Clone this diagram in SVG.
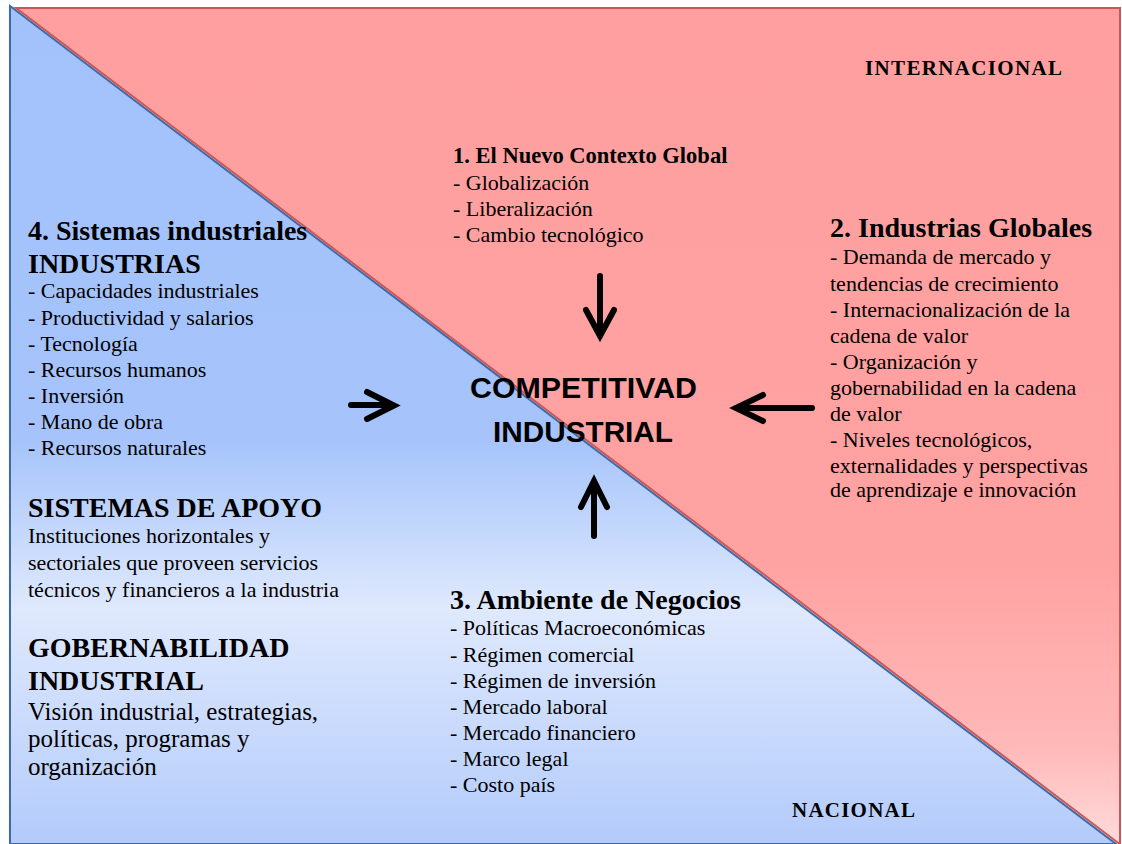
<svg xmlns="http://www.w3.org/2000/svg" width="1122" height="844" viewBox="0 0 1122 844">
<defs>
<linearGradient id="blueG" x1="0" y1="6" x2="0" y2="844" gradientUnits="userSpaceOnUse">
<stop offset="0" stop-color="#a3c1fb"/>
<stop offset="0.52" stop-color="#a6c4fb"/>
<stop offset="0.72" stop-color="#dfe9fd"/>
<stop offset="1" stop-color="#b3cbfb"/>
</linearGradient>
<linearGradient id="redG" x1="0" y1="8" x2="0" y2="844" gradientUnits="userSpaceOnUse">
<stop offset="0" stop-color="#ff9f9f"/>
<stop offset="0.66" stop-color="#ffa2a2"/>
<stop offset="0.88" stop-color="#ffb8b8"/>
<stop offset="1" stop-color="#ffdada"/>
</linearGradient>
<filter id="sh" x="-5%" y="-5%" width="110%" height="110%">
<feDropShadow dx="1" dy="1.5" stdDeviation="1.2" flood-color="#000" flood-opacity="0.35"/>
</filter>
</defs>
<style>
.serif{font-family:"Liberation Serif","Times New Roman",serif;fill:#000}
.r{font-size:22px}
.b{font-size:28px;font-weight:bold}
.b22{font-size:22.5px;font-weight:bold}
.lab{font-size:21px;font-weight:bold}
.v{font-size:25px}
.center{font-family:"Liberation Sans",Arial,sans-serif;font-size:29px;font-weight:bold;fill:#000}
.arr{fill:none;stroke:#000;stroke-width:6;stroke-linecap:round;stroke-linejoin:miter}
</style>
<rect x="0" y="0" width="1122" height="844" fill="#ffffff"/>
<g id="background">
<polygon points="10,6 1116,844 10,844" fill="url(#blueG)" stroke="#3d6aa8" stroke-width="2" filter="url(#sh)"/>
<polygon points="16,8 1120,8 1120,844 1117,842" fill="url(#redG)" stroke="#cc5556" stroke-width="2"/>
</g>
<g id="label-internacional">
<text class="serif lab" x="865" y="75" textLength="197" lengthAdjust="spacing">INTERNACIONAL</text>
</g>
<g id="label-nacional">
<text class="serif lab" x="792" y="817" textLength="123" lengthAdjust="spacing">NACIONAL</text>
</g>
<g id="node-contexto-global">
<text class="serif b22" x="453" y="163">1. El Nuevo Contexto Global</text>
<text class="serif r" x="453" y="190">- Globalización</text>
<text class="serif r" x="453" y="216">- Liberalización</text>
<text class="serif r" x="453" y="242">- Cambio tecnológico</text>
</g>
<g id="node-sistemas-industriales">
<text class="serif b" x="28" y="240">4. Sistemas industriales</text>
<text class="serif b" x="28" y="273">INDUSTRIAS</text>
<text class="serif r" x="28" y="298">- Capacidades industriales</text>
<text class="serif r" x="28" y="324.5">- Productividad y salarios</text>
<text class="serif r" x="28" y="350.5">- Tecnología</text>
<text class="serif r" x="28" y="376.5">- Recursos humanos</text>
<text class="serif r" x="28" y="402.5">- Inversión</text>
<text class="serif r" x="28" y="428.5">- Mano de obra</text>
<text class="serif r" x="28" y="454.5">- Recursos naturales</text>
</g>
<g id="node-sistemas-apoyo">
<text class="serif b" x="28" y="517">SISTEMAS DE APOYO</text>
<text class="serif r" x="28" y="543">Instituciones horizontales y</text>
<text class="serif r" x="28" y="570">sectoriales que proveen servicios</text>
<text class="serif r" x="28" y="596.5">técnicos y financieros a la industria</text>
</g>
<g id="node-gobernabilidad">
<text class="serif b" x="28" y="657">GOBERNABILIDAD</text>
<text class="serif b" x="28" y="690">INDUSTRIAL</text>
<text class="serif v" x="28" y="720">Visión industrial, estrategias,</text>
<text class="serif v" x="28" y="747">políticas, programas y</text>
<text class="serif v" x="28" y="775">organización</text>
</g>
<g id="node-industrias-globales">
<text class="serif b" x="830" y="237">2. Industrias Globales</text>
<text class="serif r" x="830" y="264">- Demanda de mercado y</text>
<text class="serif r" x="830" y="291">tendencias de crecimiento</text>
<text class="serif r" x="830" y="317">- Internacionalización de la</text>
<text class="serif r" x="830" y="343">cadena de valor</text>
<text class="serif r" x="830" y="369">- Organización y</text>
<text class="serif r" x="830" y="395">gobernabilidad en la cadena</text>
<text class="serif r" x="830" y="421">de valor</text>
<text class="serif r" x="830" y="447">- Niveles tecnológicos,</text>
<text class="serif r" x="830" y="473">externalidades y perspectivas</text>
<text class="serif r" x="830" y="497">de aprendizaje e innovación</text>
</g>
<g id="node-ambiente-negocios">
<text class="serif b" x="450" y="609">3. Ambiente de Negocios</text>
<text class="serif r" x="450" y="635">- Políticas Macroeconómicas</text>
<text class="serif r" x="450" y="661.5">- Régimen comercial</text>
<text class="serif r" x="450" y="687.5">- Régimen de inversión</text>
<text class="serif r" x="450" y="713.5">- Mercado laboral</text>
<text class="serif r" x="450" y="739.5">- Mercado financiero</text>
<text class="serif r" x="450" y="765.5">- Marco legal</text>
<text class="serif r" x="450" y="791.5">- Costo país</text>
</g>
<g id="node-competitividad">
<text class="center" x="583.5" y="398" text-anchor="middle" textLength="227" lengthAdjust="spacingAndGlyphs">COMPETITIVAD</text>
<text class="center" x="583" y="442" text-anchor="middle" textLength="180" lengthAdjust="spacingAndGlyphs">INDUSTRIAL</text>
</g>
<g id="connectors">
<path class="arr" d="M600,276 V336 M586,310 L600,336 L614,310"/>
<path class="arr" d="M351,405 H393 M367,392 L394,405.5 L367,419"/>
<path class="arr" d="M812,408 H737 M763,395 L736,408 L763,421"/>
<path class="arr" d="M594,536 V481 M581,507 L594,481 L607,507"/>
</g>
</svg>
